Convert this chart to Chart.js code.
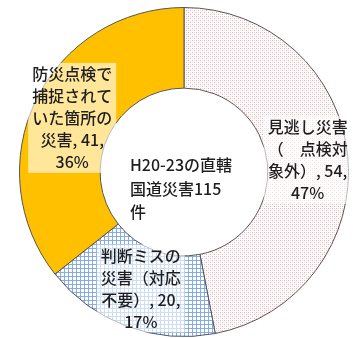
<!DOCTYPE html>
<html>
<head>
<meta charset="utf-8">
<script src="https://cdn.jsdelivr.net/npm/chart.js@4.4.0/dist/chart.umd.min.js"></script>
<style>
  html, body { margin: 0; padding: 0; background: #fff; }
  #wrap { width: 360px; height: 338px; }
</style>
</head>
<body>
<div id="wrap"><canvas id="c"></canvas></div>
<script>
// categories (line breaks as shown in the data labels)
const categories = [
  "見逃し災害\n（　点検対\n象外）",
  "判断ミスの\n災害（対応\n不要）",
  "防災点検で\n捕捉されて\nいた箇所の\n災害"
];
const values = [54, 20, 41];
const centerLines = ["H20-23の直轄", "国道災害115", "件"];

const FONT = '"Noto Sans CJK JP", "Noto Sans", sans-serif';

// dotted pink fill
function dotPattern() {
  const p = document.createElement("canvas");
  p.width = 4; p.height = 4;
  const g = p.getContext("2d");
  g.fillStyle = "#fff";
  g.fillRect(0, 0, 4, 4);
  g.fillStyle = "#eeb0b4";
  g.fillRect(0, 0, 1, 1);
  g.fillRect(2, 2, 1, 1);
  g.fillStyle = "#f8dcde";
  g.fillRect(2, 0, 1, 1);
  g.fillRect(0, 2, 1, 1);
  return g.createPattern(p, "repeat");
}

// blue grid fill
function gridPattern() {
  const p = document.createElement("canvas");
  p.width = 4; p.height = 4;
  const g = p.getContext("2d");
  g.fillStyle = "#fff";
  g.fillRect(0, 0, 4, 4);
  g.fillStyle = "#86ace8";
  g.fillRect(0, 0, 4, 1);
  g.fillRect(0, 0, 1, 4);
  return g.createPattern(p, "repeat");
}

const total = values.reduce((a, b) => a + b, 0);

// data labels in the middle of each ring segment, with a light box behind
const sliceLabels = {
  id: "sliceLabels",
  afterDatasetsDraw(chart) {
    const ctx = chart.ctx;
    const meta = chart.getDatasetMeta(0);
    const lh = 22;
    ctx.save();
    ctx.font = "500 16px " + FONT;
    ctx.textAlign = "center";
    ctx.textBaseline = "middle";
    meta.data.forEach((arc, i) => {
      const pct = Math.round(values[i] / total * 100);
      const lines = (categories[i] + ", " + values[i] + ",\n" + pct + "%").split("\n");
      const pos = arc.tooltipPosition();
      const w = Math.max(...lines.map(l => ctx.measureText(l).width)) + 8;
      const h = lines.length * lh;
      ctx.fillStyle = "rgba(255,255,255,0.6)";
      ctx.fillRect(pos.x - w / 2, pos.y - h / 2, w, h);
      ctx.fillStyle = "#1e1e1e";
      lines.forEach((l, k) => {
        ctx.fillText(l, pos.x, pos.y - h / 2 + lh * (k + 0.5));
      });
    });
    ctx.restore();
  }
};

// title text inside the hole
const centerText = {
  id: "centerText",
  afterDatasetsDraw(chart) {
    const ctx = chart.ctx;
    const arc = chart.getDatasetMeta(0).data[0];
    ctx.save();
    ctx.font = "500 16px " + FONT;
    ctx.fillStyle = "#1e1e1e";
    ctx.textAlign = "left";
    ctx.textBaseline = "middle";
    centerLines.forEach((l, k) => {
      ctx.fillText(l, arc.x - 54, arc.y - 7 + k * 23.5);
    });
    ctx.restore();
  }
};

new Chart(document.getElementById("c"), {
  type: "doughnut",
  data: {
    labels: categories,
    datasets: [{
      data: values,
      backgroundColor: [dotPattern(), gridPattern(), "#ffc000"],
      borderColor: "#555",
      borderWidth: 1
    }]
  },
  options: {
    responsive: true,
    maintainAspectRatio: false,
    animation: false,
    cutout: "51%",
    layout: { padding: { left: 8, right: 0, top: 7, bottom: 1 } },
    plugins: {
      legend: { display: false },
      tooltip: { enabled: false }
    }
  },
  plugins: [sliceLabels, centerText]
});
</script>
</body>
</html>
